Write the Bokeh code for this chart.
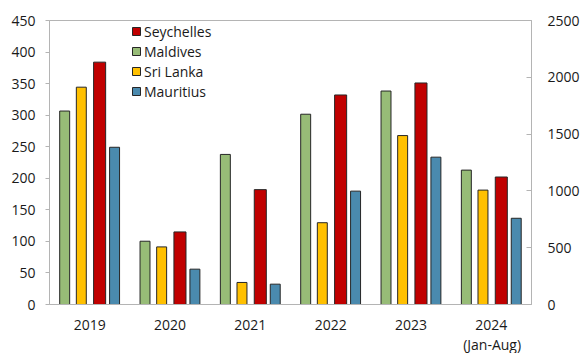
import numpy as np
from bokeh.plotting import figure
from bokeh.models import (ColumnDataSource, Range1d, LinearAxis, FixedTicker,
                          Legend, LegendItem, Title)
from bokeh.embed import file_html
from bokeh.resources import INLINE

# Tourist arrivals, thousands
years = ["2019", "2020", "2021", "2022", "2023", "2024"]
period_note = "(Jan-Aug)"                             # second line under 2024
seychelles = [384, 115, 182, 332, 351, 202]          # left axis
maldives = [1703, 557, 1321, 1675, 1879, 1183]       # right axis
sri_lanka = [1913, 507, 194, 720, 1487, 1007]        # right axis
mauritius = [1384, 311, 179, 998, 1297, 759]         # right axis

FONT = "Open Sans"
AXIS_GREY = "#B4B4B4"
TEXT = "#1a1a1a"
FRAME_W = 582 - 49 - 49
NOTE_W = 60  # approximate rendered width of the note text

p = figure(width=582, height=353, output_backend="svg", toolbar_location=None,
           x_range=Range1d(0, len(years)), y_range=Range1d(0, 450),
           min_border_left=49, min_border_right=49, min_border_top=20,
           min_border_bottom=48)
p.extra_y_ranges = {"right": Range1d(0, 2500)}
p.xgrid.visible = False
p.ygrid.visible = False
p.outline_line_color = AXIS_GREY
p.background_fill_color = "white"
p.border_fill_color = "white"

centers = np.arange(len(years)) + 0.5

series = [
    ("Maldives", maldives, "#97BC77", -0.311, 0.124, "right"),
    ("Sri Lanka", sri_lanka, "#FFC000", -0.104, 0.124, "right"),
    ("Seychelles", seychelles, "#C00000", 0.124, 0.150, "default"),
    ("Mauritius", mauritius, "#4A8AAE", 0.310, 0.124, "right"),
]

renderers = {}
for name, vals, color, off, w, rng in series:
    src = ColumnDataSource(dict(x=centers + off, top=vals))
    r = p.vbar(x="x", top="top", width=w, bottom=0, source=src,
               fill_color=color, line_color="#262626", line_width=1,
               y_range_name=rng)
    renderers[name] = r

# Left axis
la = p.yaxis[0]
la.ticker = FixedTicker(ticks=list(range(0, 451, 50)))
la.axis_line_color = AXIS_GREY
la.major_tick_line_color = AXIS_GREY
la.major_tick_out = 4
la.major_tick_in = 0
la.minor_tick_line_color = None
la.major_label_standoff = 10
la.major_label_text_font = FONT
la.major_label_text_font_size = "14px"
la.major_label_text_color = TEXT

# Right axis
ra = LinearAxis(y_range_name="right", ticker=FixedTicker(ticks=list(range(0, 2501, 500))))
ra.axis_line_color = AXIS_GREY
ra.major_tick_line_color = AXIS_GREY
ra.major_tick_out = 0
ra.major_tick_in = 5
ra.minor_tick_line_color = None
ra.major_label_standoff = 16
ra.major_label_text_font = FONT
ra.major_label_text_font_size = "14px"
ra.major_label_text_color = TEXT
p.add_layout(ra, "right")

# Category axis
xa = p.xaxis[0]
xa.ticker = FixedTicker(ticks=list(centers))
xa.major_label_overrides = {float(c): y for c, y in zip(centers, years)}
xa.axis_line_color = AXIS_GREY
xa.major_tick_line_color = None
xa.minor_tick_line_color = None
xa.major_label_standoff = 9
xa.major_label_text_font = FONT
xa.major_label_text_font_size = "14px"
xa.major_label_text_color = TEXT

# second line of the last category label, placed under "2024"
note_offset = centers[-1] / len(years) * FRAME_W - NOTE_W / 2
p.add_layout(Title(text=period_note, align="left", offset=note_offset,
                   standoff=0, text_font=FONT, text_font_size="14px",
                   text_font_style="normal", text_color=TEXT), "below")

legend = Legend(
    items=[LegendItem(label=n, renderers=[renderers[n]])
           for n in ["Seychelles", "Maldives", "Sri Lanka", "Mauritius"]],
    location=(82, 203), border_line_color=None, background_fill_alpha=0,
    label_text_font=FONT, label_text_font_size="14px", label_text_color=TEXT,
    glyph_width=10, glyph_height=10, label_height=20, label_standoff=3,
    spacing=0, padding=0, margin=0)
p.add_layout(legend)

open("out.html", "w").write(file_html(p, INLINE))
